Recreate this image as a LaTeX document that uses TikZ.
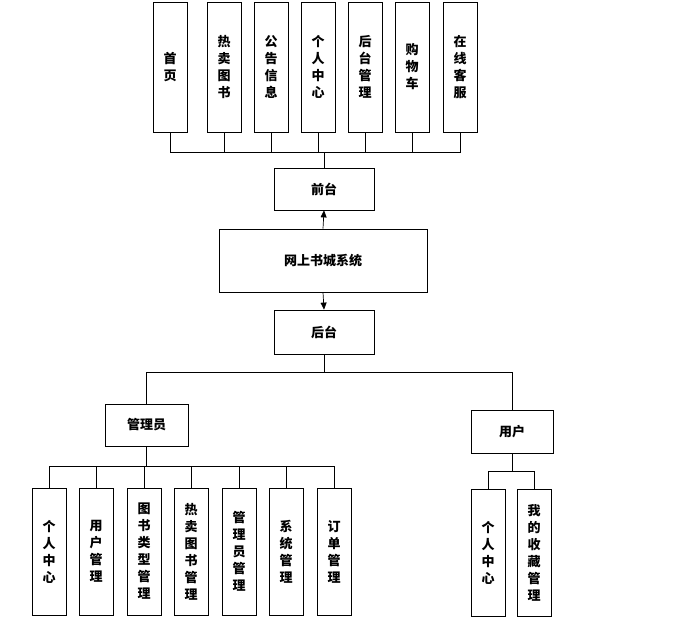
\documentclass[tikz,border=0pt]{standalone}
\usepackage{fontspec}
\setmainfont{Noto Sans CJK SC}
\usetikzlibrary{positioning,arrows.meta}
\tikzset{
  box/.style={rectangle, draw=black, line width=0.8pt, font=\fontsize{13}{17}\selectfont\bfseries, inner sep=0pt},
  vbox/.style={box, minimum width=34pt, align=center},
  hbox/.style={box, minimum width=100pt, minimum height=42pt},
  wire/.style={draw=black, line width=0.7pt}
}
\begin{document}
\begin{tikzpicture}[x=1pt,y=-1pt]
\useasboundingbox (0,0) rectangle (686,632);

		\node(main)[box, minimum width=208pt, minimum height=63pt] at (323,260.5) {网上书城系统};
		\node(front)[hbox] at (324,189) {前台};
		\node(back)[hbox, minimum height=44pt] at (324,332) {后台};

		\node(top-1)[vbox, minimum height=130pt] at (170,67) {首\\页};
		\node(top-2)[vbox, minimum height=130pt] at (224,67) {热\\卖\\图\\书};
		\node(top-3)[vbox, minimum height=130pt] at (271,67) {公\\告\\信\\息};
		\node(top-4)[vbox, minimum height=130pt] at (318,67) {个\\人\\中\\心};
		\node(top-5)[vbox, minimum height=130pt] at (365,67) {后\\台\\管\\理};
		\node(top-6)[vbox, minimum height=130pt] at (412,67) {购\\物\\车};
		\node(top-7)[vbox, minimum height=130pt] at (460,67) {在\\线\\客\\服};

		\node(admin)[box, minimum width=83pt, minimum height=42pt] at (146.5,425) {管理员};
		\node(user)[box, minimum width=82pt, minimum height=43pt] at (512,431.5) {用户};

		\node(adm-1)[vbox, minimum height=127pt] at (49,551.5) {个\\人\\中\\心};
		\node(adm-2)[vbox, minimum height=127pt] at (96,551.5) {用\\户\\管\\理};
		\node(adm-3)[vbox, minimum height=127pt] at (144,551.5) {图\\书\\类\\型\\管\\理};
		\node(adm-4)[vbox, minimum height=127pt] at (191,551.5) {热\\卖\\图\\书\\管\\理};
		\node(adm-5)[vbox, minimum height=127pt] at (239,551.5) {管\\理\\员\\管\\理};
		\node(adm-6)[vbox, minimum height=127pt] at (286,551.5) {系\\统\\管\\理};
		\node(adm-7)[vbox, minimum height=127pt] at (334,551.5) {订\\单\\管\\理};

		\node(usr-1)[vbox, minimum height=127pt] at (488,552.5) {个\\人\\中\\心};
		\node(usr-2)[vbox, minimum height=127pt] at (534,552.5) {我\\的\\收\\藏\\管\\理};

		\coordinate(top-bus) at (324,152);
		\coordinate(back-bus) at (324,372);
		\coordinate(adm-bus) at (146.5,466);
		\coordinate(usr-bus) at (512,471);

		% top level
		\draw[wire] (top-1.south) |- (top-7.south |- top-bus) -- (top-7.south);
		\foreach \i in {2,...,6} \draw[wire] (top-\i.south) -- (top-\i.south |- top-bus);
		\draw[wire] (front.north) -- (top-bus);
		\draw[wire, -{Triangle[length=7pt,width=6pt]}] (main.north) -- (front.south);
		\draw[wire, -{Triangle[length=7pt,width=6pt]}] (main.south) -- (back.north);

		% back end
		\draw[wire] (back.south) -- (back-bus);
		\draw[wire] (admin.north) |- (user.north |- back-bus) -- (user.north);
		\draw[wire] (admin.south) -- (adm-bus);
		\draw[wire] (adm-1.north) |- (adm-7.north |- adm-bus) -- (adm-7.north);
		\foreach \i in {2,...,6} \draw[wire] (adm-\i.north) -- (adm-\i.north |- adm-bus);
		\draw[wire] (user.south) -- (usr-bus);
		\draw[wire] (usr-1.north) |- (usr-2.north |- usr-bus) -- (usr-2.north);
	\end{tikzpicture}
\end{document}
